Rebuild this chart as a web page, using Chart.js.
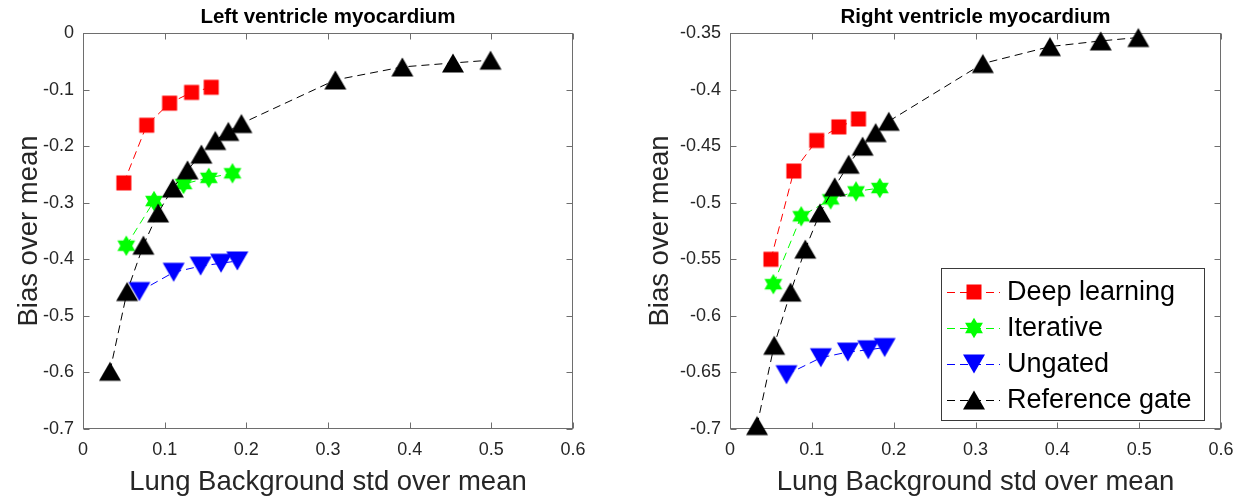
<!DOCTYPE html>
<html>
<head>
<meta charset="utf-8">
<script src="https://cdn.jsdelivr.net/npm/chart.js@4.4.0/dist/chart.umd.min.js"></script>
<style>
    html, body { margin: 0; padding: 0; background: #fff; }
    #wrap { position: relative; width: 1251px; height: 502px; overflow: hidden; }
    .panel { position: absolute; top: 0; }
    #left-panel { left: 0; }
    #right-panel { left: 626px; }
</style>
</head>
<body>
<div id="wrap">
    <div class="panel" id="left-panel"><canvas id="left-chart" width="626" height="502"></canvas></div>
    <div class="panel" id="right-panel"><canvas id="right-chart" width="625" height="502"></canvas></div>
</div>
<script>
const font_family = '"Liberation Sans", Arial, Helvetica, sans-serif';

// lung background std over mean, shared by both panels
const deep_x = [0.050, 0.078, 0.106, 0.133, 0.157];
const iter_x = [0.053, 0.087, 0.123, 0.154, 0.183];
const ungated_x = [0.069, 0.111, 0.144, 0.169, 0.189];
const ref_x = [0.033, 0.054, 0.074, 0.092, 0.110, 0.128, 0.145, 0.162, 0.178, 0.194, 0.309, 0.391, 0.453, 0.499];

// bias over mean, left ventricle
const lv_deep = [-0.265, -0.163, -0.124, -0.105, -0.096];
const lv_iter = [-0.376, -0.297, -0.267, -0.256, -0.248];
const lv_ungated = [-0.457, -0.423, -0.412, -0.407, -0.403];
const lv_ref = [-0.598, -0.457, -0.375, -0.318, -0.274, -0.242, -0.214, -0.190, -0.174, -0.160, -0.083, -0.060, -0.053, -0.048];

// bias over mean, right ventricle
const rv_deep = [-0.550, -0.472, -0.445, -0.433, -0.426];
const rv_iter = [-0.572, -0.512, -0.497, -0.490, -0.487];
const rv_ungated = [-0.652, -0.637, -0.632, -0.630, -0.628];
const rv_ref = [-0.697, -0.626, -0.579, -0.541, -0.509, -0.486, -0.466, -0.450, -0.438, -0.428, -0.377, -0.362, -0.357, -0.354];

const x_ticks = [0, 0.1, 0.2, 0.3, 0.4, 0.5, 0.6];
const lv_y_ticks = [0, -0.1, -0.2, -0.3, -0.4, -0.5, -0.6, -0.7];
const rv_y_ticks = [-0.35, -0.4, -0.45, -0.5, -0.55, -0.6, -0.65, -0.7];
const series_labels = ['Deep learning', 'Iterative', 'Ungated', 'Reference gate'];
const series_colors = ['#ff0000', '#00ff00', '#0000ff', '#000000'];

// filled marker glyphs, drawn once on small canvases
const make_marker = (shape, color) => {
    const c = document.createElement('canvas');
    c.width = 24;
    c.height = 24;
    const ctx = c.getContext('2d');
    ctx.fillStyle = color;
    ctx.beginPath();
    if (shape === 'square') {
        ctx.rect(4.5, 4.5, 15, 15);
    } else if (shape === 'up') {
        ctx.moveTo(12, 2.5);
        ctx.lineTo(23, 21.5);
        ctx.lineTo(1, 21.5);
    } else if (shape === 'down') {
        ctx.moveTo(12, 21.5);
        ctx.lineTo(23, 2.5);
        ctx.lineTo(1, 2.5);
    } else {
        // hexagram
        const R = 10.3, r = R / Math.sqrt(3);
        for (let k = 0; k < 12; k++) {
            const ang = -Math.PI / 2 + k * Math.PI / 6;
            const rad = k % 2 === 0 ? R : r;
            const px = 12 + rad * Math.cos(ang), py = 12 + rad * Math.sin(ang);
            k === 0 ? ctx.moveTo(px, py) : ctx.lineTo(px, py);
        }
    }
    ctx.closePath();
    ctx.fill();
    return c;
};

const markers = [
    make_marker('square', series_colors[0]),
    make_marker('hexagram', series_colors[1]),
    make_marker('down', series_colors[2]),
    make_marker('up', series_colors[3])
];

const make_dataset = (i, xs, ys) => ({
    label: series_labels[i],
    data: xs.map((x, j) => ({ x: x, y: ys[j] })),
    showLine: true,
    borderColor: series_colors[i],
    backgroundColor: series_colors[i],
    borderWidth: 1,
    borderDash: [8, 5],
    pointStyle: markers[i],
    pointRadius: 10,
    pointHoverRadius: 10,
    clip: false,
    order: 4 - i
});

// box with inward ticks on all four sides
const axes_box = {
    id: 'axes_box',
    beforeDatasetsDraw(chart) {
        const { ctx, chartArea: a, scales } = chart;
        const l = Math.round(a.left) + 0.5, r = Math.round(a.right) - 0.5;
        const t = Math.round(a.top) + 0.5, b = Math.round(a.bottom) - 0.5;
        ctx.save();
        ctx.strokeStyle = '#6e6e6e';
        ctx.lineWidth = 1;
        ctx.strokeRect(l, t, r - l, b - t);
        ctx.beginPath();
        scales.x.ticks.forEach(tk => {
            const px = Math.round(scales.x.getPixelForValue(tk.value)) + 0.5;
            ctx.moveTo(px, b); ctx.lineTo(px, b - 6);
            ctx.moveTo(px, t); ctx.lineTo(px, t + 6);
        });
        scales.y.ticks.forEach(tk => {
            const py = Math.round(scales.y.getPixelForValue(tk.value)) + 0.5;
            ctx.moveTo(l, py); ctx.lineTo(l + 6, py);
            ctx.moveTo(r, py); ctx.lineTo(r - 6, py);
        });
        ctx.stroke();
        ctx.restore();
    }
};

// legend boxed inside the lower right corner of the plot
const inner_legend = {
    id: 'inner_legend',
    afterDraw(chart) {
        const { ctx, chartArea: a } = chart;
        const w = 263, h = 152;
        const left = Math.round(a.right - 17 - w), top = Math.round(a.bottom - 9 - h);
        ctx.save();
        ctx.fillStyle = '#fff';
        ctx.fillRect(left, top, w, h);
        ctx.strokeStyle = '#3a3a3a';
        ctx.lineWidth = 1;
        ctx.strokeRect(left + 0.5, top + 0.5, w, h);
        chart.data.datasets.forEach((ds, i) => {
            const cy = top + 24 + i * 36;
            ctx.strokeStyle = ds.borderColor;
            ctx.setLineDash(ds.borderDash);
            ctx.beginPath();
            ctx.moveTo(left + 6, cy + 0.5);
            ctx.lineTo(left + 59, cy + 0.5);
            ctx.stroke();
            ctx.setLineDash([]);
            const m = ds.pointStyle;
            ctx.drawImage(m, left + 33 - m.width / 2, cy - m.height / 2);
            ctx.fillStyle = '#000';
            ctx.font = '27px ' + font_family;
            ctx.textBaseline = 'middle';
            ctx.textAlign = 'left';
            ctx.fillText(ds.label, left + 66, cy + 1);
        });
        ctx.restore();
    }
};

const make_options = (title, y_min, y_max, y_ticks, y_width, y_title_pad, right_pad) => ({
    responsive: false,
    animation: false,
    events: [],
    layout: { padding: { left: 0, right: right_pad, top: 0, bottom: 0 } },
    plugins: {
        legend: { display: false },
        tooltip: { enabled: false },
        title: {
            display: true,
            fullSize: false,
            text: title,
            color: '#000',
            font: { family: font_family, size: 20.5, weight: 'bold', lineHeight: 1 },
            padding: { top: 7, bottom: 5.5 }
        }
    },
    scales: {
        x: {
            type: 'linear',
            min: 0,
            max: 0.6,
            grid: { display: false, drawTicks: false },
            border: { display: false },
            afterBuildTicks: s => { s.ticks = x_ticks.map(v => ({ value: v })); },
            afterFit: s => { s.height = 73; },
            ticks: {
                color: '#262626',
                font: { family: font_family, size: 18 },
                padding: 10,
                maxRotation: 0,
                autoSkip: false,
                callback: v => String(v)
            },
            title: {
                display: true,
                text: 'Lung Background std over mean',
                color: '#262626',
                font: { family: font_family, size: 27.5, lineHeight: 1.2 },
                padding: { top: 0, bottom: 3.5 }
            }
        },
        y: {
            type: 'linear',
            min: y_min,
            max: y_max,
            grid: { display: false, drawTicks: false },
            border: { display: false },
            afterBuildTicks: s => { s.ticks = y_ticks.map(v => ({ value: v })); },
            afterFit: s => { s.width = y_width; },
            ticks: {
                color: '#262626',
                font: { family: font_family, size: 18 },
                padding: 9,
                autoSkip: false,
                callback: v => String(v)
            },
            title: {
                display: true,
                text: 'Bias over mean',
                color: '#262626',
                font: { family: font_family, size: 27.5, lineHeight: 1.2 },
                padding: { top: y_title_pad, bottom: 0 }
            }
        }
    }
});

new Chart(document.getElementById('left-chart'), {
    type: 'scatter',
    data: {
        datasets: [
            make_dataset(0, deep_x, lv_deep),
            make_dataset(1, iter_x, lv_iter),
            make_dataset(2, ungated_x, lv_ungated),
            make_dataset(3, ref_x, lv_ref)
        ]
    },
    options: make_options('Left ventricle myocardium', -0.7, 0, lv_y_ticks, 83, 12.5, 53),
    plugins: [axes_box]
});

new Chart(document.getElementById('right-chart'), {
    type: 'scatter',
    data: {
        datasets: [
            make_dataset(0, deep_x, rv_deep),
            make_dataset(1, iter_x, rv_iter),
            make_dataset(2, ungated_x, rv_ungated),
            make_dataset(3, ref_x, rv_ref)
        ]
    },
    options: make_options('Right ventricle myocardium', -0.7, -0.35, rv_y_ticks, 104, 17.5, 30),
    plugins: [axes_box, inner_legend]
});
</script>
</body>
</html>
